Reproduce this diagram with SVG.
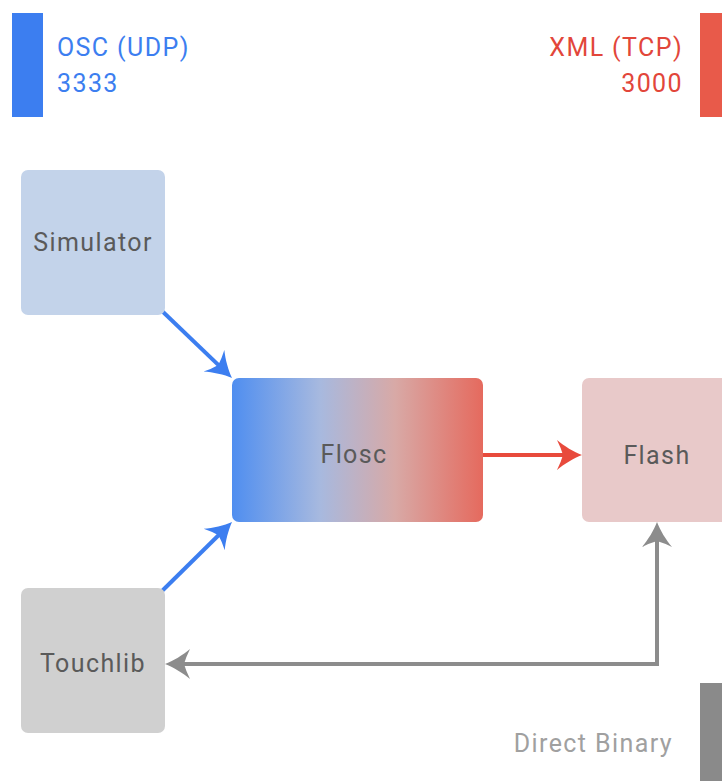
<svg xmlns="http://www.w3.org/2000/svg" width="722" height="781" viewBox="0 0 722 781">
<style>
.lbl{font-family:"Roboto","Liberation Sans",sans-serif;font-size:25px;letter-spacing:1.4px;fill:#5a5a5a;text-anchor:middle}
.leg{font-family:"Roboto","Liberation Sans",sans-serif;font-size:25px;letter-spacing:1.4px}
.blue{fill:#3c7ef0}
.red{fill:#e2463a}
.c{fill:none;stroke-width:4}
</style>
<defs>
<linearGradient id="g" x1="0" x2="1" y1="0" y2="0">
<stop offset="0" stop-color="#4f8ef0"/>
<stop offset="0.35" stop-color="#a7b9df"/>
<stop offset="0.65" stop-color="#d8a9a6"/>
<stop offset="1" stop-color="#e56a5e"/>
</linearGradient>
<path id="ah" d="M29,15 C21,12 11,6 4,0 Q8,8 10,15 Q8,22 4,30 C11,24 21,18 29,15 Z"/>
<marker id="ab" viewBox="0 0 30 30" refX="19" refY="15" markerWidth="30" markerHeight="30" markerUnits="userSpaceOnUse" orient="auto"><use href="#ah" fill="#3c7ef0"/></marker>
<marker id="ar" viewBox="0 0 30 30" refX="19" refY="15" markerWidth="30" markerHeight="30" markerUnits="userSpaceOnUse" orient="auto"><use href="#ah" fill="#e84a3c"/></marker>
<marker id="ag" viewBox="0 0 30 30" refX="19" refY="15" markerWidth="30" markerHeight="30" markerUnits="userSpaceOnUse" orient="auto-start-reverse"><use href="#ah" fill="#8c8c8c"/></marker>
</defs>
<rect width="722" height="781" fill="#ffffff"/>
<g id="legend">
<rect x="12" y="13" width="31" height="104" fill="#3c7ef0"/>
<text class="leg blue" x="57" y="56">OSC (UDP)</text>
<text class="leg blue" x="57" y="92">3333</text>
<rect x="700" y="13" width="22" height="104" fill="#e85a4a"/>
<text class="leg red" x="683" y="56" text-anchor="end">XML (TCP)</text>
<text class="leg red" x="683" y="92" text-anchor="end">3000</text>
<rect x="700" y="683" width="22" height="98" fill="#8a8a8a"/>
<text class="leg" x="673" y="752" text-anchor="end" fill="#a0a0a0">Direct Binary</text>
</g>
<g id="connectors">
<line class="c" x1="161" y1="310" x2="224.8" y2="371.1" stroke="#3c7ef0" marker-end="url(#ab)"/>
<line class="c" x1="161" y1="592" x2="224.9" y2="529" stroke="#3c7ef0" marker-end="url(#ab)"/>
<line class="c" x1="483" y1="455" x2="572" y2="455" stroke="#e84a3c" marker-end="url(#ar)"/>
<polyline class="c" points="657,532 657,664 175,664" stroke="#8c8c8c" marker-start="url(#ag)" marker-end="url(#ag)"/>
</g>
<g id="simulator">
<rect x="21" y="170" width="144" height="145" rx="7" fill="#c3d3ea"/>
<text class="lbl" x="93" y="251">Simulator</text>
</g>
<g id="flosc">
<rect x="232" y="378" width="251" height="144" rx="7" fill="url(#g)"/>
<text class="lbl" x="354" y="463">Flosc</text>
</g>
<g id="flash">
<rect x="582" y="378" width="150" height="144" rx="7" fill="#e8c9c9"/>
<text class="lbl" x="657" y="464">Flash</text>
</g>
<g id="touchlib">
<rect x="21" y="588" width="144" height="145" rx="7" fill="#d0d0d0"/>
<text class="lbl" x="93" y="672">Touchlib</text>
</g>
</svg>
